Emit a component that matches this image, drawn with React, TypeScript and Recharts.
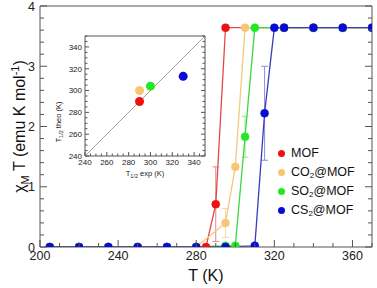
import React from 'react';
import {
  ComposedChart,
  Line,
  Scatter,
  Cell,
  XAxis,
  YAxis,
  ErrorBar,
  Legend,
  ReferenceLine
} from 'recharts';

// main panel: chi_M T vs T
const mofT = [205, 220, 235, 250, 265, 280, 285, 290, 295, 325, 340, 355, 370];
const mofChi = [0, 0, 0, 0, 0, 0, 0, 0.71, 3.64, 3.64, 3.64, 3.64, 3.64];
const mofErr = [null, null, null, null, null, null, null, 0.62, null, null, null, null, null];

const co2T = [205, 220, 235, 250, 265, 280, 295, 300, 305, 325, 340, 355, 370];
const co2Chi = [0, 0, 0, 0, 0, 0, 0.4, 1.33, 3.64, 3.64, 3.64, 3.64, 3.64];
const co2Err = [null, null, null, null, null, null, 0.24, null, null, null, null, null, null];

const so2T = [205, 220, 235, 250, 265, 280, 295, 300, 305, 310, 325, 340, 355, 370];
const so2Chi = [0, 0, 0, 0, 0, 0, 0.02, 0.02, 1.83, 3.64, 3.64, 3.64, 3.64, 3.64];
const so2Err = [null, null, null, null, null, null, null, null, 0.34, null, null, null, null, null];

const cs2T = [205, 220, 235, 250, 265, 280, 295, 310, 315, 320, 325, 340, 355, 370];
const cs2Chi = [0, 0, 0, 0, 0, 0, 0, 0.02, 2.22, 3.64, 3.64, 3.64, 3.64, 3.64];
const cs2Err = [null, null, null, null, null, null, null, null, 0.78, null, null, null, null, null];

const seriesNames = ['MOF', 'CO2@MOF', 'SO2@MOF', 'CS2@MOF'];
const dotColors = ['#ee1111', '#f8c572', '#22e822', '#0a0ad8'];
const lineColors = ['#e04a4a', '#f6c87e', '#3cd83c', '#3a3ac0'];
const errColors = ['#e08a8a', '#f5d9a6', '#92e892', '#8e8ed6'];

const xTicks = [200, 210, 220, 230, 240, 250, 260, 270, 280, 290, 300, 310, 320, 330, 340, 350, 360, 370];
const yTicks = [0, 0.2, 0.4, 0.6, 0.8, 1, 1.2, 1.4, 1.6, 1.8, 2, 2.2, 2.4, 2.6, 2.8, 3, 3.2, 3.4, 3.6, 3.8, 4];

// inset: T1/2 theo vs T1/2 exp
const insetExp = [290, 290, 300, 330];
const insetTheo = [290, 300, 304, 313];
const insetTicks = [240, 245, 250, 255, 260, 265, 270, 275, 280, 285, 290, 295, 300, 305, 310, 315, 320, 325, 330, 335, 340, 345, 350];

const FONT = '"Liberation Sans", Arial, sans-serif';
const AXIS = '#555';

const build = (t: number[], v: number[], e: (number | null)[]) =>
  t.map((x, i) => (e[i] != null ? { x, y: v[i], err: e[i] } : { x, y: v[i] }));

const series = [
  build(mofT, mofChi, mofErr),
  build(co2T, co2Chi, co2Err),
  build(so2T, so2Chi, so2Err),
  build(cs2T, cs2Chi, cs2Err)
];

const insetData = insetExp.map((x, i) => ({ x, y: insetTheo[i] }));

const isMajor = (v: number, step: number) => Math.abs(v / step - Math.round(v / step)) < 1e-6;

const makeTick = (side: string, step: number, long: number, short: number, showLabel: boolean, fs: number, gap: number) =>
  (props: any) => {
    const { x, y, payload } = props;
    const v = payload.value;
    const major = isMajor(v, step);
    const len = major ? long : short;
    let line;
    let label = null;
    if (side === 'bottom') {
      line = <line x1={x} x2={x} y1={y} y2={y - len} stroke={AXIS} />;
      if (showLabel && major)
        label = <text x={x} y={y + gap} textAnchor="middle" fontSize={fs} fill="#222" fontFamily={FONT}>{v}</text>;
    } else if (side === 'top') {
      line = <line x1={x} x2={x} y1={y} y2={y + len} stroke={AXIS} />;
    } else if (side === 'left') {
      line = <line x1={x} x2={x + len} y1={y} y2={y} stroke={AXIS} />;
      if (showLabel && major)
        label = <text x={x - gap} y={y} dy="0.36em" textAnchor="end" fontSize={fs} fill="#222" fontFamily={FONT}>{v}</text>;
    } else {
      line = <line x1={x} x2={x - len} y1={y} y2={y} stroke={AXIS} />;
    }
    return <g>{line}{label}</g>;
  };

const YLabel = (props: any) => {
  const vb = props.viewBox || { y: 6, height: 241 };
  const cy = vb.y + vb.height / 2;
  return (
    <text transform={`translate(25,${cy}) rotate(-90)`} textAnchor="middle" fontSize={16} fill="#111" fontFamily={FONT}>
      χ<tspan dy={4} fontSize={11}>M</tspan>
      <tspan dy={-4}> T (emu K mol</tspan>
      <tspan dy={-6} fontSize={11}>-1</tspan>
      <tspan dy={6}>)</tspan>
    </text>
  );
};

const XLabel = (props: any) => {
  const vb = props.viewBox || { x: 40, width: 332 };
  return (
    <text x={vb.x + vb.width / 2} y={281} textAnchor="middle" fontSize={16} fill="#111" fontFamily={FONT}>
      T (K)
    </text>
  );
};

const fmtName = (n: string) => {
  const m = n.match(/^([A-Z]+)2(.*)$/);
  if (!m) return n;
  return (
    <>
      {m[1]}
      <sub style={{ fontSize: 8, verticalAlign: -2 }}>2</sub>
      {m[2]}
    </>
  );
};

const LegendBox = () => (
  <div style={{ fontFamily: FONT, fontSize: 12.5, color: '#111' }}>
    {seriesNames.map((n, i) => (
      <div key={n} style={{ height: 19, lineHeight: '19px', whiteSpace: 'nowrap' }}>
        <span
          style={{
            display: 'inline-block',
            width: 7,
            height: 7,
            borderRadius: 4,
            background: dotColors[i],
            marginRight: 6,
            verticalAlign: 0
          }}
        />
        {fmtName(n)}
      </div>
    ))}
  </div>
);

const InsetYLabel = () => (
  <text transform="translate(6,92) rotate(-90)" textAnchor="middle" fontSize={7.5} fill="#222" fontFamily={FONT}>
    T<tspan dy={2} fontSize={5.5}>1/2</tspan>
    <tspan dy={-2}> theo (K)</tspan>
  </text>
);

const InsetXLabel = () => (
  <text x={90} y={146} textAnchor="middle" fontSize={7.5} fill="#222" fontFamily={FONT}>
    T<tspan dy={2} fontSize={5.5}>1/2</tspan>
    <tspan dy={-2}> exp (K)</tspan>
  </text>
);

export default function App() {
  return (
    <div style={{ position: 'fixed', left: 0, top: 0, width: 377, height: 288, background: '#fff' }}>
      <ComposedChart width={377} height={288} margin={{ top: 0, right: 0, bottom: 0, left: 0 }}>
        <XAxis
          xAxisId="b"
          dataKey="x"
          type="number"
          domain={[200, 370]}
          ticks={xTicks}
          interval={0}
          height={41}
          tickSize={0}
          tickMargin={0}
          tickLine={false}
          stroke={AXIS}
          tick={makeTick('bottom', 40, 7, 4, true, 12.5, 13)}
          label={<XLabel />}
          allowDataOverflow
        />
        <XAxis
          xAxisId="t"
          orientation="top"
          type="number"
          domain={[200, 370]}
          ticks={xTicks}
          interval={0}
          height={6}
          tickSize={0}
          tickMargin={0}
          tickLine={false}
          stroke={AXIS}
          tick={makeTick('top', 40, 7, 4, false, 12, 0)}
          allowDataOverflow
        />
        <YAxis
          yAxisId="l"
          type="number"
          domain={[0, 4]}
          ticks={yTicks}
          interval={0}
          width={40}
          tickSize={0}
          tickMargin={0}
          tickLine={false}
          stroke={AXIS}
          tick={makeTick('left', 1, 7, 4, true, 12.5, 5)}
          label={<YLabel />}
          allowDataOverflow
        />
        <YAxis
          yAxisId="r"
          orientation="right"
          type="number"
          domain={[0, 4]}
          ticks={yTicks}
          interval={0}
          width={5}
          tickSize={0}
          tickMargin={0}
          tickLine={false}
          stroke={AXIS}
          tick={makeTick('right', 1, 7, 4, false, 12, 0)}
          allowDataOverflow
        />
        {series.map((d, i) => (
          <Line
            key={seriesNames[i]}
            xAxisId="b"
            yAxisId="l"
            data={d}
            dataKey="y"
            name={seriesNames[i]}
            type="linear"
            stroke={lineColors[i]}
            strokeWidth={1.3}
            dot={{ r: 4, fill: dotColors[i], stroke: dotColors[i], strokeWidth: 0.5 }}
            activeDot={false}
            isAnimationActive={false}
          >
            <ErrorBar dataKey="err" direction="y" width={3.5} stroke={errColors[i]} strokeWidth={1} isAnimationActive={false} />
          </Line>
        ))}
        <Legend
          layout="vertical"
          align="center"
          verticalAlign="middle"
          content={<LegendBox />}
          wrapperStyle={{ position: 'absolute', left: 278, top: 144, width: 95 }}
        />
      </ComposedChart>

      <div style={{ position: 'absolute', left: 55, top: 30, width: 160, height: 150 }}>
        <ComposedChart width={160} height={150} margin={{ top: 0, right: 0, bottom: 0, left: 0 }}>
          <XAxis
            xAxisId="b"
            dataKey="x"
            type="number"
            domain={[240, 350]}
            ticks={insetTicks}
            interval={0}
            height={24}
            tickSize={0}
            tickMargin={0}
            tickLine={false}
            stroke={AXIS}
            tick={makeTick('bottom', 20, 4, 2.5, true, 8, 8.5)}
            label={<InsetXLabel />}
            allowDataOverflow
          />
          <XAxis
            xAxisId="t"
            orientation="top"
            type="number"
            domain={[240, 350]}
            ticks={insetTicks}
            interval={0}
            height={6}
            tickSize={0}
            tickMargin={0}
            tickLine={false}
            stroke={AXIS}
            tick={makeTick('top', 20, 4, 2.5, false, 8, 0)}
            allowDataOverflow
          />
          <YAxis
            yAxisId="l"
            type="number"
            dataKey="y"
            domain={[240, 350]}
            ticks={insetTicks}
            interval={0}
            width={30}
            tickSize={0}
            tickMargin={0}
            tickLine={false}
            stroke={AXIS}
            tick={makeTick('left', 20, 4, 2.5, true, 8, 3)}
            label={<InsetYLabel />}
            allowDataOverflow
          />
          <YAxis
            yAxisId="r"
            orientation="right"
            type="number"
            domain={[240, 350]}
            ticks={insetTicks}
            interval={0}
            width={10}
            tickSize={0}
            tickMargin={0}
            tickLine={false}
            stroke={AXIS}
            tick={makeTick('right', 20, 4, 2.5, false, 8, 0)}
            allowDataOverflow
          />
          <ReferenceLine
            xAxisId="b"
            yAxisId="l"
            segment={[{ x: 240, y: 240 }, { x: 350, y: 350 }]}
            stroke="#888"
            strokeWidth={0.8}
          />
          <Scatter xAxisId="b" yAxisId="l" data={insetData} dataKey="y" isAnimationActive={false}
            shape={(p: any) => <circle cx={p.cx} cy={p.cy} r={4.5} fill={p.fill} />}>
            {insetData.map((_, i) => (
              <Cell key={i} fill={dotColors[i]} />
            ))}
          </Scatter>
        </ComposedChart>
      </div>
    </div>
  );
}
